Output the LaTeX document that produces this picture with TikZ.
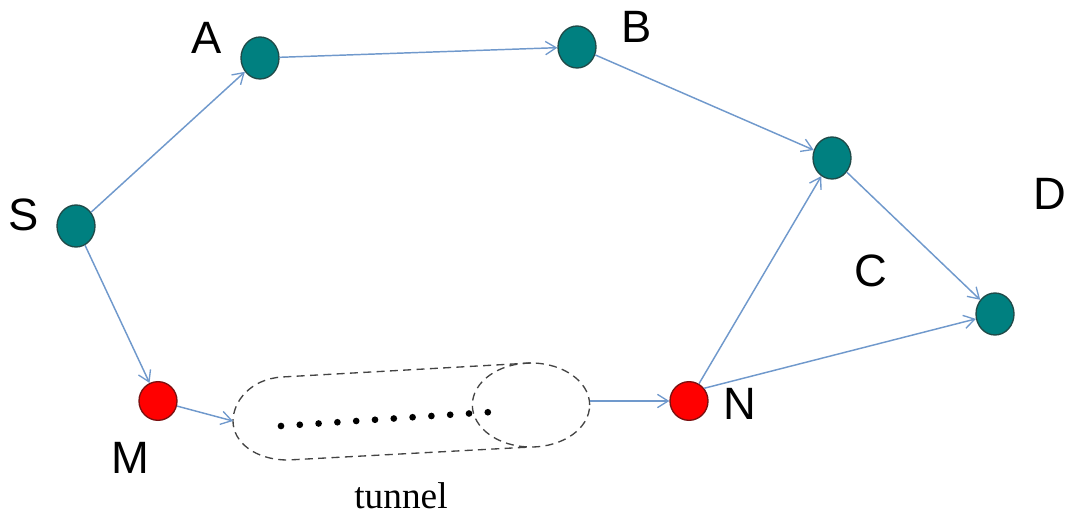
\documentclass[tikz,border=0pt]{standalone}
\usepackage{fontspec}
\setmainfont{Liberation Sans}
\newfontfamily\serifface{Liberation Serif}
\usetikzlibrary{shapes.geometric,arrows.meta}
\definecolor{teal0}{HTML}{008080}
\definecolor{tealedge}{HTML}{1F4A48}
\definecolor{rededge}{HTML}{7A1010}
\definecolor{arrowblue}{HTML}{7099CC}
\definecolor{dashgray}{HTML}{444444}
\tikzset{
  tnode/.style={ellipse, draw=tealedge, line width=1pt, fill=teal0, minimum width=28.5pt, minimum height=31.5pt, inner sep=0pt},
  rnode/.style={ellipse, draw=rededge, line width=1pt, fill=red, minimum width=28.5pt, minimum height=29pt, inner sep=0pt},
  lbl/.style={inner sep=0pt, font=\fontsize{34}{40}\selectfont},
  conn/.style={draw=arrowblue, line width=1.1pt, -{Straight Barb[length=8pt,width=10pt,line width=1pt]}},
  tunline/.style={draw=dashgray, line width=1pt, dash pattern=on 6pt off 4pt},
}
\begin{document}
\begin{tikzpicture}[x=0.75pt,y=-0.75pt]
\useasboundingbox (0,0) rectangle (1067,516);
% nodes
\node[tnode] (S) at (76,226) {};
\node[tnode] (A) at (260,58) {};
\node[tnode] (B) at (577,47) {};
\node[tnode] (C) at (832,158) {};
\node[tnode] (D) at (995,314) {};
\node[rnode] (M) at (158,401) {};
\node[rnode] (N) at (689,401) {};
% labels
\node[lbl] (lS) at (24,215) {S};
\node[lbl] (lA) at (207,38) {A};
\node[lbl] (lB) at (637,27) {B};
\node[lbl] (lC) at (871,271) {C};
\node[lbl] (lD) at (1050,194) {D};
\node[lbl] (lM) at (130,458) {M};
\node[lbl] (lN) at (740,404) {N};
\node[inner sep=0pt, font=\serifface\fontsize{28}{32}\selectfont] (lt) at (401,496) {tunnel};
% tunnel
\node[ellipse, tunline, minimum width=88pt, minimum height=63pt, inner sep=0pt] (tend) at (531,405) {};
\draw[tunline] (531,363) -- (282,377) .. controls (250,379) and (233,402) .. (233,421)
  .. controls (233,442) and (255,460) .. (288,460) -- (531,447);
\coordinate (tin) at (233,421);
\coordinate (tout) at (590,401);
\foreach \i in {0,...,11} {
  \fill (281+\i*18.8,426-\i*1.25) circle (2.5pt);
}
% connectors
\draw[conn] (S) -- (A);
\draw[conn] (A) -- (B);
\draw[conn] (B) -- (C);
\draw[conn] (C) -- (D);
\draw[conn] (S) -- (M);
\draw[conn] (M) -- (tin);
\draw[conn] (tout) -- (N);
\draw[conn] (N.60) -- (C);
\draw[conn] (N.40) -- (D);
\end{tikzpicture}
\end{document}
